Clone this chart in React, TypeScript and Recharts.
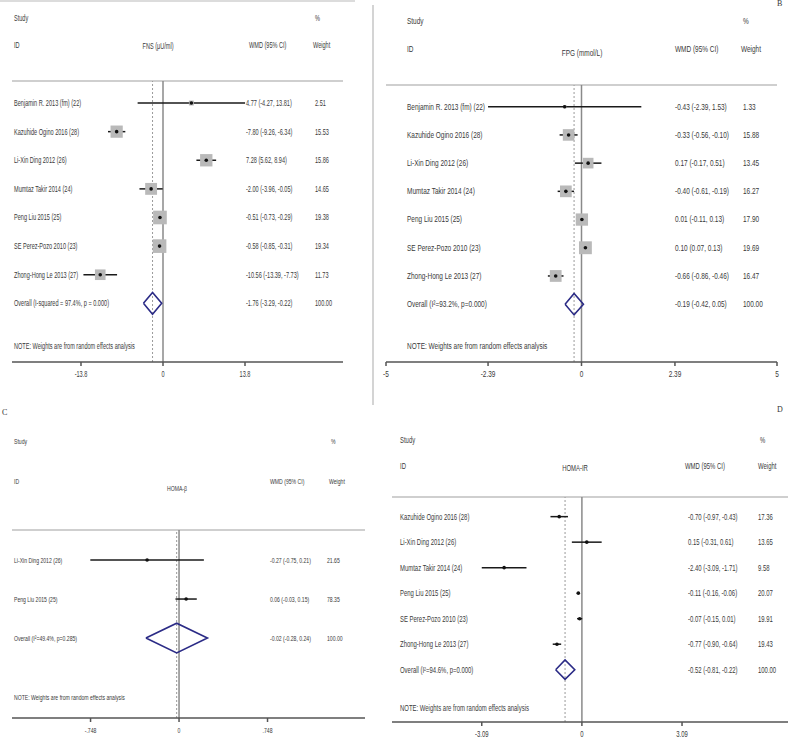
import { ScatterChart, Scatter, XAxis, YAxis, ReferenceLine, ErrorBar } from 'recharts'

// Panel A: FNS (μU/ml)
const fnsStudies = ['Benjamin R. 2013 (fm) (22)', 'Kazuhide Ogino 2016 (28)', 'Li-Xin Ding 2012 (26)', 'Mumtaz Takir 2014 (24)', 'Peng Liu 2015 (25)', 'SE Perez-Pozo 2010 (23)', 'Zhong-Hong Le 2013 (27)']
const fnsEst = [4.77, -7.80, 7.28, -2.00, -0.51, -0.58, -10.56]
const fnsLo = [-4.27, -9.26, 5.62, -3.96, -0.73, -0.85, -13.39]
const fnsHi = [13.81, -6.34, 8.94, -0.05, -0.29, -0.31, -7.73]
const fnsWeight = [2.51, 15.53, 15.86, 14.65, 19.38, 19.34, 11.73]
const fnsOverall = [-1.76, -3.29, -0.22]
const fnsTicks = [-13.8, 0, 13.8]
const fnsTickLabels = ['-13.8', '0', '13.8']

// Panel B: FPG (mmol/L)
const fpgStudies = ['Benjamin R. 2013 (fm) (22)', 'Kazuhide Ogino 2016  (28)', 'Li-Xin Ding  2012 (26)', 'Mumtaz Takir 2014 (24)', 'Peng Liu 2015 (25)', 'SE Perez-Pozo 2010 (23)', 'Zhong-Hong Le 2013 (27)']
const fpgEst = [-0.43, -0.33, 0.17, -0.40, 0.01, 0.10, -0.66]
const fpgLo = [-2.39, -0.56, -0.17, -0.61, -0.11, 0.07, -0.86]
const fpgHi = [1.53, -0.10, 0.51, -0.19, 0.13, 0.13, -0.46]
const fpgWeight = [1.33, 15.88, 13.45, 16.27, 17.90, 19.69, 16.47]
const fpgOverall = [-0.19, -0.42, 0.05]
const fpgTicks = [-5, -2.39, 0, 2.39, 5]
const fpgTickLabels = ['-5', '-2.39', '0', '2.39', '5']

// Panel C: HOMA-β
const hbStudies = ['Li-Xin Ding  2012 (26)', 'Peng Liu 2015 (25)']
const hbEst = [-0.27, 0.06]
const hbLo = [-0.75, -0.03]
const hbHi = [0.21, 0.15]
const hbWeight = [21.65, 78.35]
const hbOverall = [-0.02, -0.28, 0.24]
const hbTicks = [-0.748, 0, 0.748]
const hbTickLabels = ['-.748', '0', '.748']

// Panel D: HOMA-IR
const hirStudies = ['Kazuhide Ogino 2016  (28)', 'Li-Xin Ding  2012  (26)', 'Mumtaz Takir 2014  (24)', 'Peng Liu 2015  (25)', 'SE Perez-Pozo 2010  (23)', 'Zhong-Hong Le 2013  (27)']
const hirEst = [-0.70, 0.15, -2.40, -0.11, -0.07, -0.77]
const hirLo = [-0.97, -0.31, -3.09, -0.16, -0.15, -0.90]
const hirHi = [-0.43, 0.61, -1.71, -0.06, 0.01, -0.64]
const hirWeight = [17.36, 13.65, 9.58, 20.07, 19.91, 19.43]
const hirOverall = [-0.52, -0.81, -0.22]
const hirTicks = [-3.09, 0, 3.09]
const hirTickLabels = ['-3.09', '0', '3.09']

const NOTE = 'NOTE: Weights are from random effects analysis'
const FONT = "Arial, 'Liberation Sans', sans-serif"
const INK = '#3a3a3a'

function T({ x, y, size, sx, anchor = 'start', children }: any) {
  return (
    <text
      transform={`translate(${x},${y}) scale(${sx},1)`}
      fontSize={size}
      fontFamily={FONT}
      textAnchor={anchor}
      dominantBaseline="central"
      fill={INK}
    >
      {children}
    </text>
  )
}

const ci = (e: number, l: number, h: number) => `${e.toFixed(2)} (${l.toFixed(2)}, ${h.toFixed(2)})`

function Forest(p: any) {
  const { ox, oy, W, H, plot, domain, studies, est, lo, hi, weight, overall, overallLabel,
    ticks, tickLabels, title, cols, size, sx, boxK, showBoxes } = p
  const last = studies.length
  const top = -0.77
  const rows = studies.map((_: string, i: number) => ({
    x: est[i], y: i, err: [est[i] - lo[i], hi[i] - est[i]], w: weight[i],
  }))
  const [oe, ol, oh] = overall
  const diamond = [
    { x: ol, y: last }, { x: oe, y: last - 0.38 }, { x: oh, y: last }, { x: oe, y: last + 0.38 }, { x: ol, y: last },
  ]
  // one text row per study, plus the overall row and the note
  const labels = [
    ...studies.map((s: string, i: number) => ({ x: 0, y: i, name: s, ci: ci(est[i], lo[i], hi[i]), wt: weight[i].toFixed(2) })),
    { x: 0, y: last, name: overallLabel, ci: ci(oe, ol, oh), wt: '100.00' },
    { x: 0, y: last + 1.5, name: NOTE, ci: '', wt: '' },
  ]
  const axisH = 16
  const margin = {
    left: plot[0] - ox,
    right: ox + W - plot[1],
    top: plot[2] - oy,
    bottom: oy + H - plot[3] - axisH,
  }
  const hx = (v: number) => v - ox
  const hy = (v: number) => v - oy

  const rowText = ({ cy, payload }: any) => (
    <g>
      <T x={hx(cols.name)} y={cy} size={size} sx={sx}>{payload.name}</T>
      {payload.ci && <T x={hx(cols.ci)} y={cy} size={size} sx={sx}>{payload.ci}</T>}
      {payload.wt && <T x={hx(cols.wt)} y={cy} size={size} sx={sx}>{payload.wt}</T>}
    </g>
  )

  const xTick = ({ x, y, payload }: any) => {
    const i = ticks.indexOf(payload.value)
    return <T x={x} y={y + 6} size={size} sx={sx} anchor="middle">{tickLabels[i]}</T>
  }

  const box = ({ cx, cy, payload }: any) => {
    const s = boxK * Math.sqrt(payload.w)
    return (
      <g>
        {showBoxes && <rect x={cx - s / 2} y={cy - s / 2} width={s} height={s} fill="#b9b9b9" />}
        <circle cx={cx} cy={cy} r={1.8} fill="#111" />
      </g>
    )
  }

  return (
    <div style={{ position: 'absolute', left: ox, top: oy, width: W, height: H }}>
      <ScatterChart width={W} height={H} margin={margin}>
        <XAxis
          type="number"
          dataKey="x"
          domain={domain}
          allowDataOverflow
          ticks={ticks}
          interval={0}
          height={axisH}
          stroke="#555"
          strokeWidth={1.5}
          tickSize={4}
          tick={xTick}
        />
        <YAxis type="number" dataKey="y" domain={[top, last + 2.05]} allowDataOverflow reversed hide />
        <ReferenceLine y={top} stroke="#cfcfcf" strokeWidth={2} />
        <ReferenceLine x={0} stroke="#8a8a8a" strokeWidth={1.5} />
        <ReferenceLine x={oe} stroke="#9a9a9a" strokeWidth={1} strokeDasharray="2 2" />
        <Scatter data={labels} shape={rowText} isAnimationActive={false} />
        <Scatter data={rows} shape={box} isAnimationActive={false}>
          <ErrorBar dataKey="err" direction="x" width={0} stroke="#1a1a1a" strokeWidth={1.5} />
        </Scatter>
        <Scatter
          data={diamond}
          line={{ stroke: '#2b2b86', strokeWidth: 1.6 }}
          stroke="#2b2b86"
          shape={() => <g />}
          isAnimationActive={false}
        />
        <T x={hx(cols.name)} y={hy(cols.studyY)} size={size} sx={sx}>Study</T>
        <T x={hx(cols.pct)} y={hy(cols.studyY)} size={size} sx={sx}>%</T>
        <T x={hx(cols.name)} y={hy(cols.idY)} size={size} sx={sx}>ID</T>
        <T x={hx(cols.titleX)} y={hy(cols.titleY)} size={size} sx={sx} anchor="middle">{title}</T>
        <T x={hx(cols.wmdX)} y={hy(cols.idY)} size={size} sx={sx}>WMD (95% CI)</T>
        <T x={hx(cols.pct - 2)} y={hy(cols.idY)} size={size} sx={sx}>Weight</T>
      </ScatterChart>
    </div>
  )
}

const Letter = ({ x, y, c }: any) => (
  <div style={{ position: 'absolute', left: x, top: y, fontFamily: "'Liberation Serif', serif", fontSize: 8, color: '#333', lineHeight: 1 }}>{c}</div>
)

export default function App() {
  return (
    <div style={{ position: 'absolute', left: 0, top: 0, width: 790, height: 739, background: '#fff', overflow: 'hidden' }}>
      <div style={{ position: 'absolute', left: 0, top: 0, width: 355, height: 2, background: '#dcdcdc' }} />
      <div style={{ position: 'absolute', left: 372, top: 5, width: 2, height: 400, background: '#d4d4d4' }} />
      <Forest
        ox={0} oy={0} W={373} H={398} plot={[12, 343, 81, 362]} domain={[-25.41, 30.29]}
        studies={fnsStudies} est={fnsEst} lo={fnsLo} hi={fnsHi} weight={fnsWeight} overall={fnsOverall}
        overallLabel="Overall  (I-squared = 97.4%, p = 0.000)" ticks={fnsTicks} tickLabels={fnsTickLabels}
        title="FNS (μU/ml)" size={9} sx={0.62} boxK={3.1} showBoxes
        cols={{ name: 14, ci: 246, wt: 315, pct: 315, studyY: 18, idY: 45, titleX: 158, titleY: 46, wmdX: 249 }}
      />
      <Forest
        ox={376} oy={0} W={414} H={398} plot={[386, 777, 85, 362]} domain={[-5, 5]}
        studies={fpgStudies} est={fpgEst} lo={fpgLo} hi={fpgHi} weight={fpgWeight} overall={fpgOverall}
        overallLabel="Overall  (I²=93.2%, p=0.000)" ticks={fpgTicks} tickLabels={fpgTickLabels}
        title="FPG (mmol/L)" size={9} sx={0.72} boxK={2.9} showBoxes
        cols={{ name: 407, ci: 675, wt: 743, pct: 743, studyY: 21, idY: 49, titleX: 582, titleY: 53, wmdX: 675 }}
      />
      <Forest
        ox={0} oy={400} W={373} H={339} plot={[12, 365, 530, 718]} domain={[-1.412, 1.572]}
        studies={hbStudies} est={hbEst} lo={hbLo} hi={hbHi} weight={hbWeight} overall={hbOverall}
        overallLabel="Overall  (I²=49.4%, p=0.285)" ticks={hbTicks} tickLabels={hbTickLabels}
        title="HOMA-β" size={8} sx={0.64} boxK={0} showBoxes={false}
        cols={{ name: 14, ci: 270, wt: 327, pct: 331, studyY: 441, idY: 481, titleX: 177, titleY: 488, wmdX: 270 }}
      />
      <Forest
        ox={376} oy={400} W={414} H={339} plot={[392, 788, 497, 722]} domain={[-5.86, 6.36]}
        studies={hirStudies} est={hirEst} lo={hirLo} hi={hirHi} weight={hirWeight} overall={hirOverall}
        overallLabel="Overall  (I²=94.6%, p=0.000)" ticks={hirTicks} tickLabels={hirTickLabels}
        title="HOMA-IR" size={8.5} sx={0.7} boxK={0} showBoxes={false}
        cols={{ name: 400, ci: 688, wt: 758, pct: 760, studyY: 440, idY: 466, titleX: 575, titleY: 468, wmdX: 685 }}
      />
      <Letter x={777} y={0} c="B" />
      <Letter x={2} y={409} c="C" />
      <Letter x={777} y={406} c="D" />
    </div>
  )
}
